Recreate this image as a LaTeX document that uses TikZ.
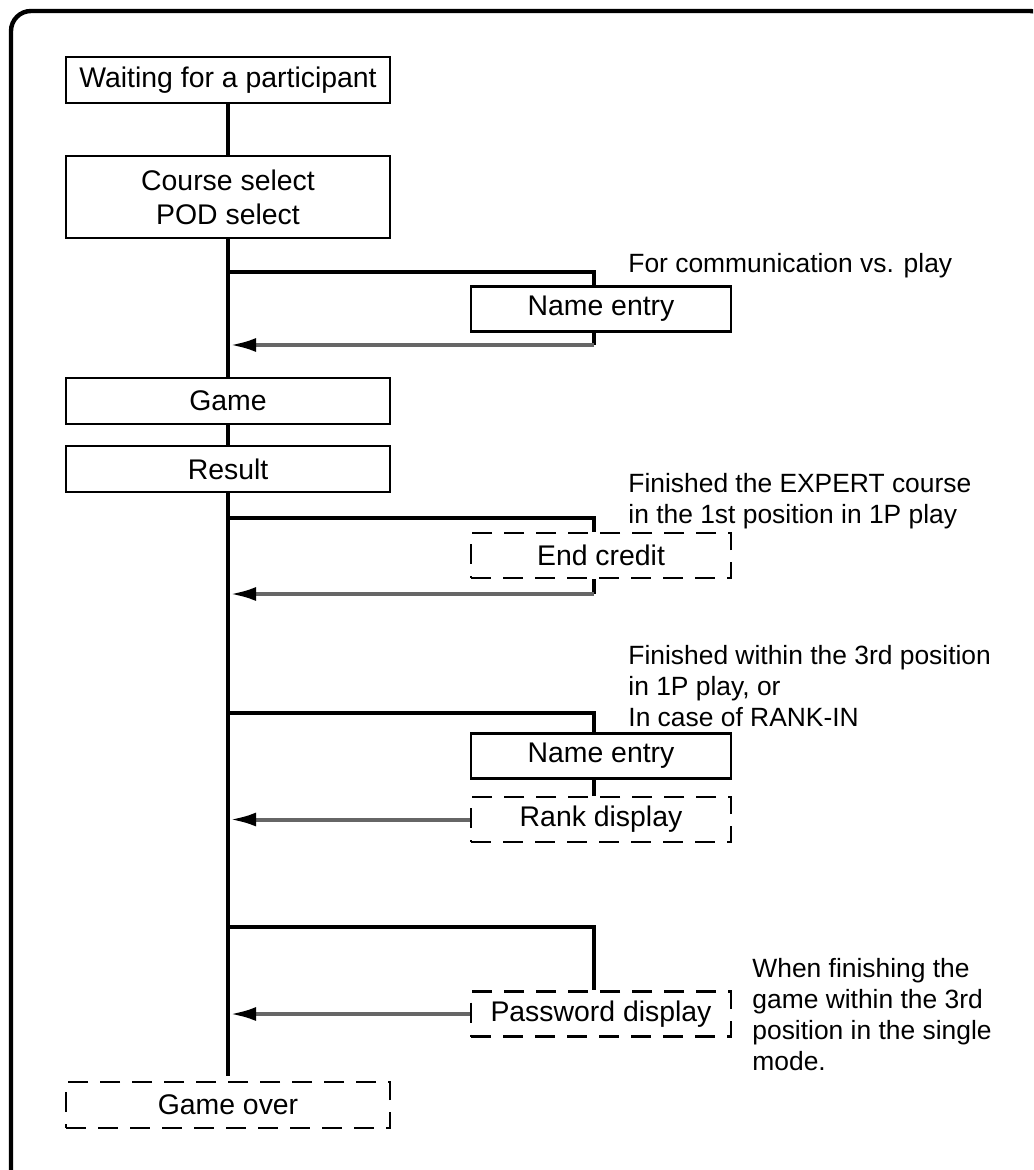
\documentclass[tikz,border=0pt]{standalone}
\usepackage{fontspec}
\setmainfont{Liberation Sans}
\usetikzlibrary{arrows.meta}
\tikzset{
  stepbox/.style={draw, line width=1.3pt, minimum width=162pt, minimum height=23pt,
    inner sep=0pt, align=center, font=\fontsize{14.2}{17}\selectfont},
  sidebox/.style={stepbox, minimum width=130pt, minimum height=22.5pt},
  dashbox/.style={dash pattern=on 10pt off 6pt},
  flow/.style={line width=2pt},
  back/.style={line width=2pt, black!60, shorten >=1pt, -{Latex[length=13pt,width=7pt,black]}},
  note/.style={anchor=north west, inner sep=0pt, align=left, font=\fontsize{13.2}{15.5}\selectfont},
}

\begin{document}
\begin{tikzpicture}[x=0.5pt,y=-0.5pt]
  \useasboundingbox (0,0) rectangle (1033,1170);
  \clip (0,0) rectangle (1033,1170);
  % frame
  \draw[line width=2.2pt, rounded corners=10pt] (11,11) rectangle (1050,1190);

  % main column
  \node[stepbox] (wait) at (228,80) {Waiting for a participant};
  \node[stepbox, minimum height=41pt] (course) at (228,197) {Course select\\POD select};
  \node[stepbox] (game) at (228,401) {Game};
  \node[stepbox] (result) at (228,469) {Result};
  \node[stepbox, dashbox] (over) at (228,1105) {Game over};

  % side boxes
  \node[sidebox] (name1) at (601,309) {Name entry};
  \node[sidebox, dashbox] (credit) at (601,555.5) {End credit};
  \node[sidebox] (name2) at (601,756) {Name entry};
  \node[sidebox, dashbox] (rank) at (601,819.5) {Rank display};
  \node[sidebox, dashbox] (pass) at (601,1014) {Password display};

  \coordinate (col) at (594,0);
  \coordinate (b1) at (228,272);
  \coordinate (r1) at (228,345);
  \coordinate (b2) at (228,518);
  \coordinate (r2) at (228,594);
  \coordinate (b3) at (228,713);
  \coordinate (b4) at (228,927);

  \draw[flow] (wait) -- (course);
  \draw[flow] (course) -- (game);
  \draw[flow] (game) -- (result);
  \draw[flow, shorten >=2.5pt] (result) -- (over);

  % branches
  \draw[flow] (b1) -| (name1.north -| col);
  \draw[flow] (name1.south -| col) -- (r1 -| col);
  \draw[back] (r1 -| col) -- (r1);

  \draw[flow] (b2) -| (credit.north -| col);
  \draw[flow] (credit.south -| col) -- (r2 -| col);
  \draw[back] (r2 -| col) -- (r2);

  \draw[flow] (b3) -| (name2.north -| col);
  \draw[flow] (name2.south -| col) -- (rank.north -| col);
  \draw[back] (rank.west) -- (rank.west -| wait.center);

  \draw[flow] (b4) -| (pass.north -| col);
  \draw[back] (pass.west) -- (pass.west -| wait.center);

  % conditions
  \node[note] (n1) at (628,253) {For communication vs. play};
  \node[note] (n2) at (628,473) {Finished the EXPERT course\\in the 1st position in 1P play};
  \node[note] (n3) at (628,645) {Finished within the 3rd position\\in 1P play, or\\In case of RANK-IN};
  \node[note] (n4) at (752,958) {When finishing the\\game within the 3rd\\position in the single\\mode.};
\end{tikzpicture}
\end{document}
